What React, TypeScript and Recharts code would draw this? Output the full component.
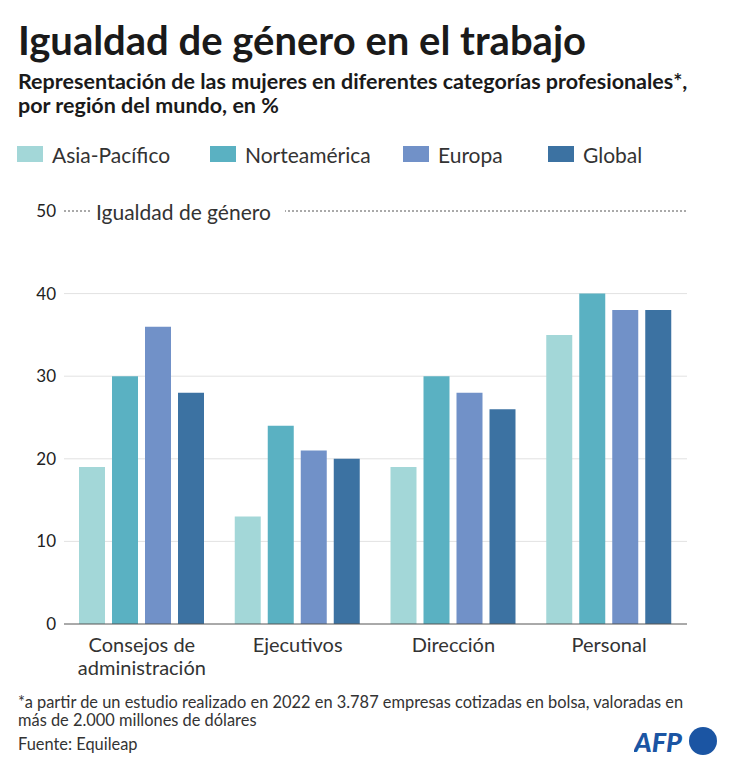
import React from 'react';
import { BarChart, Bar, XAxis, YAxis, CartesianGrid, ReferenceLine } from 'recharts';

const categories = ['Consejos de\nadministración', 'Ejecutivos', 'Dirección', 'Personal'];
const asiaPacifico = [19, 13, 19, 35];
const norteamerica = [30, 24, 30, 40];
const europa = [36, 21, 28, 38];
const global = [28, 20, 26, 38];
const yTicks = [0, 10, 20, 30, 40, 50];

const series = [
    { key: 'asia', name: 'Asia-Pacífico', color: '#a3d7d8' },
    { key: 'norte', name: 'Norteamérica', color: '#5ab1c2' },
    { key: 'europa', name: 'Europa', color: '#7191c8' },
    { key: 'global', name: 'Global', color: '#3c72a2' },
];

// legend item left edges (swatch)
const legendX = [17, 210, 403, 548];

const data = categories.map((cat, i) => ({
    cat,
    asia: asiaPacifico[i],
    norte: norteamerica[i],
    europa: europa[i],
    global: global[i],
}));

const FONT = 'Lato, "Noto Sans", sans-serif';

const CategoryTick = (props: any) => {
    const { x, y, payload } = props;
    const lines = String(payload.value).split('\n');
    return (
        <text x={x} y={y} textAnchor="middle" fill="#333" fontSize={20} fontFamily={FONT}>
            {lines.map((line, i) => (
                <tspan key={i} x={x} dy={i === 0 ? 20 : 23}>{line}</tspan>
            ))}
        </text>
    );
};

const EqualityLabel = (props: any) => {
    const { viewBox } = props;
    const x = viewBox.x;
    const y = viewBox.y;
    return (
        <g>
            <rect x={x + 27} y={y - 14} width={194} height={28} fill="#fff" />
            <text x={x + 32} y={y} dominantBaseline="central" fill="#333" fontSize={21} fontFamily={FONT}>
                Igualdad de género
            </text>
        </g>
    );
};

const App: React.FC = () => {
    return (
        <div style={{ position: 'absolute', left: 0, top: 0, width: 733, height: 768, background: '#fff', fontFamily: FONT, color: '#222' }}>
            <div style={{ position: 'absolute', left: 18, top: 16, fontSize: 40, fontWeight: 700, color: '#1a1a1a', lineHeight: '48px', whiteSpace: 'nowrap' }}>
                Igualdad de género en el trabajo
            </div>
            <div style={{ position: 'absolute', left: 18, top: 69, fontSize: 21.5, fontWeight: 700, color: '#1a1a1a', lineHeight: '24px', whiteSpace: 'nowrap' }}>
                Representación de las mujeres en diferentes categorías profesionales*,<br />
                por región del mundo, en %
            </div>

            {/* legend */}
            {series.map((s, i) => (
                <div key={s.key} style={{ position: 'absolute', left: legendX[i], top: 140, height: 28, display: 'flex', alignItems: 'center', fontSize: 21, color: '#333', whiteSpace: 'nowrap' }}>
                    <span style={{ width: 26, height: 16, background: s.color, display: 'inline-block', marginRight: 9 }} />
                    <span>{s.name}</span>
                </div>
            ))}

            <div style={{ position: 'absolute', left: 0, top: 190 }}>
                <BarChart
                    width={733}
                    height={500}
                    data={data}
                    margin={{ top: 21, right: 46, left: 0, bottom: 0 }}
                    barSize={26}
                    barGap={7}
                >
                    <CartesianGrid vertical={false} horizontalValues={[10, 20, 30, 40]} stroke="#e2e2e2" />
                    <XAxis
                        dataKey="cat"
                        height={66}
                        axisLine={{ stroke: '#555' }}
                        tickLine={false}
                        tick={<CategoryTick />}
                        interval={0}
                    />
                    <YAxis
                        width={64}
                        domain={[0, 50]}
                        ticks={yTicks}
                        axisLine={false}
                        tickLine={false}
                        tick={{ fill: '#222', fontSize: 17, fontFamily: FONT }}
                    />
                    <ReferenceLine y={50} stroke="#555" strokeDasharray="2 2" label={<EqualityLabel />} />
                    {series.map((s) => (
                        <Bar key={s.key} dataKey={s.key} name={s.name} fill={s.color} isAnimationActive={false} />
                    ))}
                </BarChart>
            </div>

            <div style={{ position: 'absolute', left: 18, top: 693, fontSize: 16.4, color: '#333', lineHeight: '18px', whiteSpace: 'nowrap' }}>
                *a partir de un estudio realizado en 2022 en 3.787 empresas cotizadas en bolsa, valoradas en<br />
                más de 2.000 millones de dólares
            </div>
            <div style={{ position: 'absolute', left: 18, top: 735, fontSize: 16.4, color: '#333', lineHeight: '18px' }}>
                Fuente: Equileap
            </div>

            <svg style={{ position: 'absolute', left: 634, top: 724 }} width={90} height={36}>
                <text x={0} y={28} fontSize={27} fontWeight={900} fontStyle="italic" fill="#1b55a3" fontFamily={FONT}>AFP</text>
                <circle cx={69} cy={17} r={14} fill="#1b55a3" />
            </svg>
        </div>
    );
};

export default App;
